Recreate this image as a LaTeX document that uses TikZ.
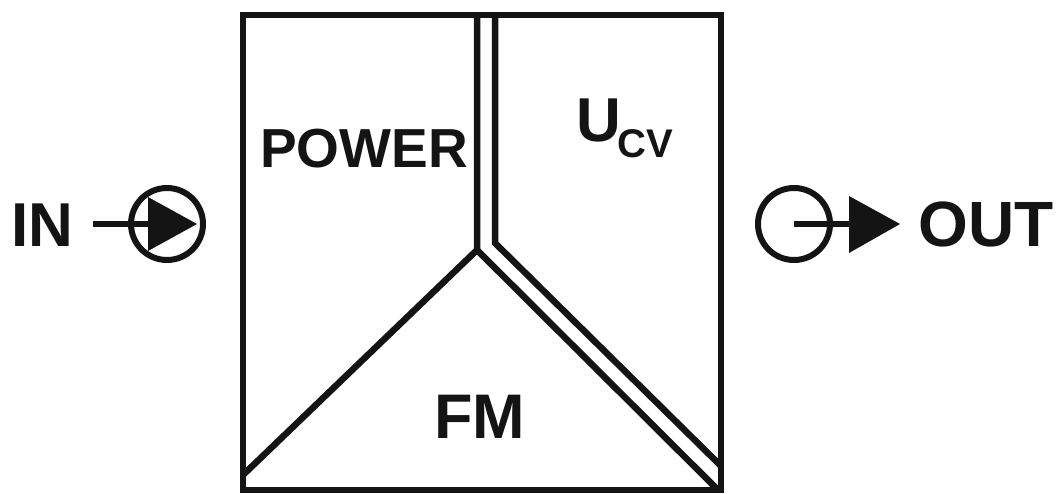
\documentclass[tikz,border=0pt]{standalone}
\usepackage{fontspec}
\setmainfont{Liberation Sans}
\tikzset{
  wire/.style={draw=black!92,line width=6.5pt,line join=miter},
  thinwire/.style={draw=black!92,line width=6pt},
  port/.style={circle,draw=black!92,line width=6pt,minimum size=72pt,inner sep=0pt},
  lbl/.style={inner sep=0pt,text=black!92,anchor=base west},
  tip/.style={fill=black!92,draw=none}
}
\newcommand{\tsz}[1]{\fontsize{#1}{#1}\selectfont\bfseries}
\begin{document}
\begin{tikzpicture}[x=1pt,y=-1pt]
\useasboundingbox (0,0) rectangle (1059,494);
\coordinate (tl) at (243,15);
\coordinate (tr) at (721,15);
\coordinate (br) at (721,490);
\coordinate (bl) at (243,490);
\coordinate (t1) at (477,15);
\coordinate (t2) at (495,15);
\coordinate (apex) at (477,250);
\coordinate (bend) at (495,243);
\coordinate (leftend) at (243,475);
\coordinate (out1) at (718,490);
\coordinate (out2) at (721,466);
\draw[wire] (tl) rectangle (br);
\draw[wire] (t1) -- (apex) -- (leftend);
\draw[wire] (apex) -- (out1);
\draw[wire] (t2) -- (bend) -- (out2);
\node[lbl,font=\tsz{55}] (power) at (260,168) {POWER};
\node[lbl,font=\tsz{62}] (u) at (576,142) {U};
\node[lbl,font=\tsz{40}] (cv) at (617,158) {CV};
\node[lbl,font=\tsz{63}] (fm) at (434,438) {FM};
\node[lbl,font=\tsz{62}] (in) at (11,247) {IN};
\node[lbl,font=\tsz{64}] (outl) at (918,247) {OUT};
\node[port] (pin) at (167,224) {};
\node[port] (pout) at (794,224) {};
\coordinate (instart) at (93,224);
\coordinate (intip) at (160,224);
\coordinate (outtip) at (860,224);
\draw[thinwire] (instart) -- (intip);
\fill[tip] (148,197) -- (197,224) -- (148,251) -- cycle;
\draw[thinwire] (pout.center) -- (outtip);
\fill[tip] (849,196) -- (900,224) -- (849,253) -- cycle;
\end{tikzpicture}
\end{document}
